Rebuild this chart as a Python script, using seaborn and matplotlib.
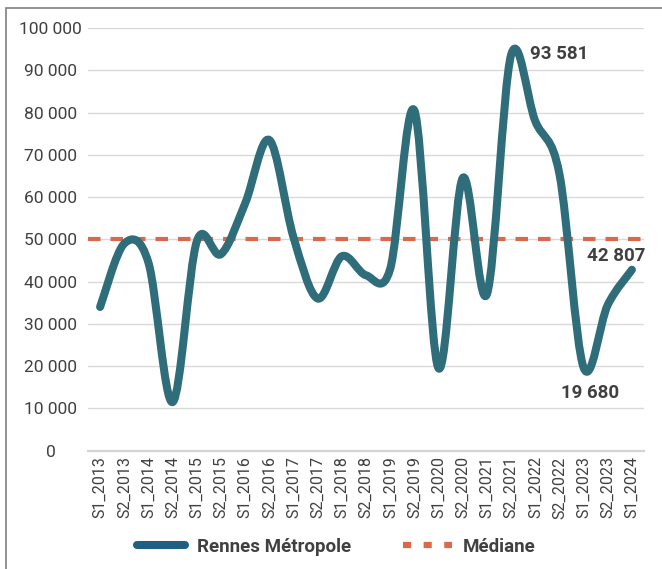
import numpy as np
import pandas as pd
import seaborn as sns
import matplotlib.pyplot as plt
from matplotlib.path import Path
from matplotlib.patches import PathPatch, Rectangle
from matplotlib.lines import Line2D
from matplotlib.ticker import FuncFormatter

# données
periodes = ['S1_2013', 'S2_2013', 'S1_2014', 'S2_2014', 'S1_2015', 'S2_2015',
            'S1_2016', 'S2_2016', 'S1_2017', 'S2_2017', 'S1_2018', 'S2_2018',
            'S1_2019', 'S2_2019', 'S1_2020', 'S2_2020', 'S1_2021', 'S2_2021',
            'S1_2022', 'S2_2022', 'S1_2023', 'S2_2023', 'S1_2024']
rennes = [34000, 49000, 44500, 11500, 49500, 46500,
          58500, 73500, 50500, 36000, 46000, 41500,
          43000, 80500, 19500, 64500, 37000, 93581,
          78000, 65500, 19680, 34500, 42807]
mediane = 50000
etiquettes = {17: '93 581', 22: '42 807', 20: '19 680'}

df = pd.DataFrame({'periode': periodes, 'valeur': rennes})
df['x'] = range(len(df))

sns.set_style('white')
plt.rcParams['font.family'] = ['Roboto', 'DejaVu Sans']

couleur = '#2f6d7b'
orange = '#d9694a'
gris = '#404040'

fig = plt.figure(figsize=(6.62, 5.69), dpi=100)
ax = fig.add_axes([88 / 662, 1 - 450.7 / 569, (644 - 88) / 662, (450.7 - 28) / 569])

# ligne médiane
sns.lineplot(x=[-0.5, 22.5], y=[mediane, mediane], ax=ax, color=orange, lw=3,
             dashes=False, linestyle=(0, (3, 2.4)), zorder=2)

# courbe lissée (bezier à partir des points, comme Excel)
xs = df['x'].to_numpy(dtype=float)
ys = df['valeur'].to_numpy(dtype=float)
px = np.concatenate([[xs[0]], xs, [xs[-1]]])
py = np.concatenate([[ys[0]], ys, [ys[-1]]])
verts = [(xs[0], ys[0])]
codes = [Path.MOVETO]
for i in range(1, len(xs)):
    j = i + 1
    c1 = (px[j - 1] + (px[j] - px[j - 2]) / 6, py[j - 1] + (py[j] - py[j - 2]) / 6)
    c2 = (px[j] - (px[j + 1] - px[j - 1]) / 6, py[j] - (py[j + 1] - py[j - 1]) / 6)
    verts += [c1, c2, (px[j], py[j])]
    codes += [Path.CURVE4] * 3
ax.add_patch(PathPatch(Path(verts, codes), fill=False, edgecolor=couleur, lw=5.8,
                       capstyle='round', joinstyle='round', zorder=3))

ax.set_xlim(-0.5, 22.5)
ax.set_ylim(0, 100000)
ax.set_yticks(range(0, 100001, 10000))
ax.yaxis.set_major_formatter(FuncFormatter(lambda v, p: f'{int(v):,}'.replace(',', ' ')))
ax.set_xticks(df['x'])
ax.set_xticklabels(periodes, rotation=90)
ax.grid(axis='y', color='#d9d9d9', lw=1)
ax.set_axisbelow(True)
for s in ['left', 'right', 'top']:
    ax.spines[s].set_visible(False)
ax.spines['bottom'].set_color('#d4d4d4')
ax.spines['bottom'].set_linewidth(1.6)
ax.tick_params(axis='y', length=0, pad=27, labelsize=12.5, labelcolor=gris)
ax.tick_params(axis='x', length=0, pad=4, labelsize=11.5, labelcolor=gris)
for lab in ax.get_yticklabels():
    lab.set_horizontalalignment('center')
ax.set_xlabel('')
ax.set_ylabel('')

# étiquettes de données
ax.annotate(etiquettes[17], (17, rennes[17]), xytext=(13.5, 1), textcoords='offset points',
            ha='left', va='center', fontsize=13.5, fontweight='bold', color=gris)
ax.annotate(etiquettes[22], (22, rennes[22]), xytext=(9.5, 10), textcoords='offset points',
            ha='right', va='center', fontsize=13.5, fontweight='bold', color=gris)
ax.annotate(etiquettes[20], (20, rennes[20]), xytext=(5, -18.5), textcoords='offset points',
            ha='center', va='center', fontsize=13.5, fontweight='bold', color=gris)

# légende
poignees = [Line2D([], [], color='#1f5f80', lw=5.8, solid_capstyle='round'),
            Line2D([], [], color=orange, lw=4.5, linestyle=(0, (1.3, 2.0)))]
fig.legend(poignees, ['Rennes Métropole', 'Médiane'], loc='center',
           bbox_to_anchor=(0.508, 1 - 547 / 569), ncol=2, frameon=False,
           handlelength=2.6, columnspacing=2.8, handletextpad=0.6,
           prop={'size': 13.5, 'weight': 'bold'}, labelcolor=gris)

# cadre
fig.patches.append(Rectangle((6 / 662, -0.1), 1.2, 0.1 + 1 - 8 / 569, transform=fig.transFigure,
                             fill=False, edgecolor='#7f7f7f', lw=1.2))

fig.savefig('out.png', dpi=100)
